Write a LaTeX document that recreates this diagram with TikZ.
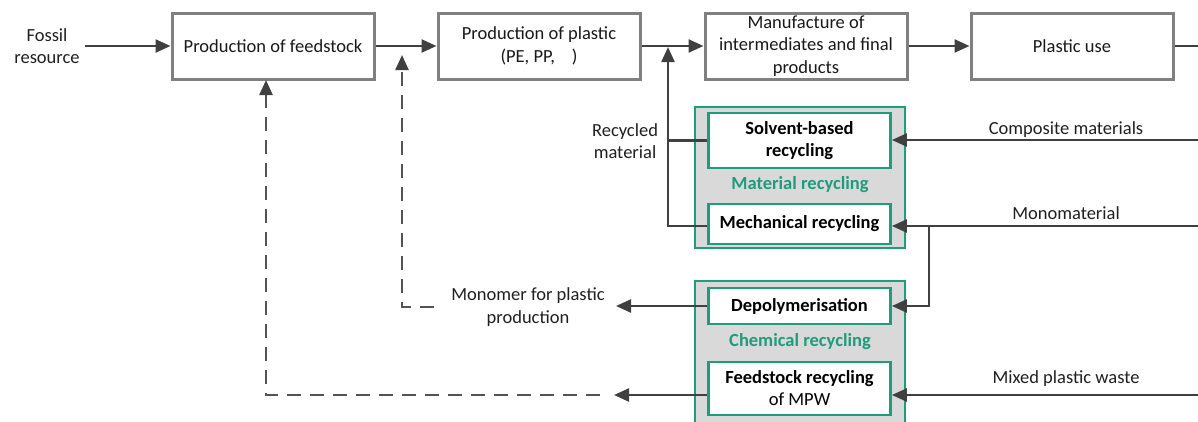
\documentclass[tikz,border=0pt]{standalone}
\usepackage{fontspec}
\setmainfont{Carlito}
\usetikzlibrary{arrows.meta}
\definecolor{grn}{HTML}{1E9C7C}
\definecolor{boxgray}{HTML}{808080}
\definecolor{fillgray}{HTML}{D9D9D9}
\definecolor{ink}{HTML}{404040}
\tikzset{
  procbox/.style={draw=boxgray, line width=3pt, fill=white, minimum width=202pt, minimum height=66pt, inner sep=0pt, align=center, text=black!90, font=\fontsize{18.5}{22.5}\selectfont},
  grpbox/.style={draw=grn, line width=2.8pt, fill=fillgray, minimum width=210pt, inner sep=0pt},
  recbox/.style={draw=grn, line width=2.8pt, fill=white, minimum width=182pt, inner sep=0pt, align=center, font=\fontsize{18.5}{22}\selectfont\bfseries},
  grplabel/.style={text=grn, font=\fontsize{18.5}{22}\selectfont\bfseries},
  lbl/.style={text=black!88, align=center, font=\fontsize{18.5}{22.5}\selectfont},
  arr/.style={draw=ink, line width=2.4pt, -{Triangle[length=15pt,width=13pt]}},
  ln/.style={draw=ink, line width=2.4pt},
  dashln/.style={draw=ink!90, line width=2.8pt, dash pattern=on 14pt off 9pt},
}
\begin{document}
\begin{tikzpicture}[x=1pt,y=-1pt]
\useasboundingbox (0,0) rectangle (1198,421);

% main process boxes
\node[procbox] (feed) at (273,46) {Production of feedstock};
\node[procbox] (plast) at (539,46) {Production of plastic\\(PE, PP, \hphantom{…})};
\node[procbox] (manu) at (806,46) {Manufacture of\\intermediates and final\\products};
\node[procbox] (use) at (1072,46) {Plastic use};

% groups
\node[grpbox, minimum height=141pt] (matgrp) at (800,177.5) {};
\node[grpbox, minimum height=160pt] (chemgrp) at (800,361) {};

\node[recbox, minimum height=55pt] (solv) at (799.5,140.5) {Solvent-based\\recycling};
\node[recbox, minimum height=40pt] (mech) at (799.5,224) {Mechanical recycling};
\node[grplabel] (matlbl) at (800,185) {Material recycling};

\node[recbox, minimum height=36pt] (depo) at (799.5,306) {Depolymerisation};
\node[grplabel] (chemlbl) at (800,342) {Chemical recycling};
\node[recbox, minimum height=53pt] (fsr) at (799.5,388.5) {Feedstock recycling\\\mdseries of MPW};

% labels
\node[lbl] (fossil) at (47,46) {Fossil\\resource};
\node[lbl] (recmat) at (625,141) {Recycled\\material};
\node[lbl] (comp) at (1066,130) {Composite materials};
\node[lbl] (mono) at (1066,213) {Monomaterial};
\node[lbl] (mixed) at (1066,379) {Mixed plastic waste};
\node[lbl] (monomer) at (528,307) {Monomer for plastic\\production};

% coordinates
\coordinate (fossilend) at (85,46);
\coordinate (useend) at (1198,46);
\coordinate (rx) at (668,0);
\coordinate (rtip) at (668,47);
\coordinate (cin) at (1198,140);
\coordinate (min) at (1198,226);
\coordinate (mb) at (929,226);
\coordinate (xin) at (1198,395);
\coordinate (monotip) at (616,306);
\coordinate (fstip) at (614,395);
\coordinate (d1start) at (434,307);
\coordinate (d1corner) at (402,307);
\coordinate (d1tip) at (402,55);
\coordinate (d2start) at (600,395);
\coordinate (d2corner) at (266,395);
\coordinate (d2tip) at (266,80);

% main flow
\draw[arr] (fossilend) -- (feed.west);
\draw[arr] (feed.east) -- (plast.west);
\draw[arr] (plast.east) -- (manu.west);
\draw[arr] (manu.east) -- (use.west);
\draw[ln] (use.east) -- (useend);

% recycled material
\draw[ln] (solv.west) -- (solv.west -| rx);
\draw[arr] (mech.west |- mb) -| (rtip);

% inputs
\draw[arr] (cin) -- (cin -| solv.east);
\draw[arr] (min) -- (min -| mech.east);
\draw[arr] (mb) |- (depo.east);
\draw[arr] (xin) -- (xin -| fsr.east);

% outputs of chemical recycling
\draw[arr] (depo.west) -- (monotip);
\draw[arr] (fsr.west |- xin) -- (fstip);

% dashed returns
\draw[dashln] (d1start) -- (d1corner) -- ([yshift=-10pt]d1tip);
\draw[arr] ([yshift=-14pt]d1tip) -- (d1tip);
\draw[dashln] (d2start) -- (d2corner) -- ([yshift=-10pt]d2tip);
\draw[arr] ([yshift=-14pt]d2tip) -- (d2tip);
\end{tikzpicture}
\end{document}
